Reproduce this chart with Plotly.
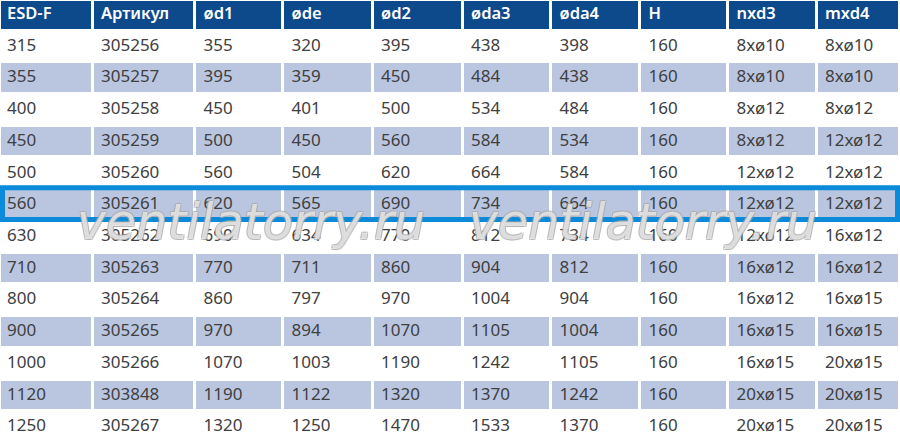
import plotly.graph_objects as go

headers = ["ESD-F", "Артикул", "ød1", "øde", "ød2", "øda3", "øda4", "H", "nxd3", "mxd4"]
esd_f = ["315", "355", "400", "450", "500", "560", "630", "710", "800", "900", "1000", "1120", "1250"]
artikul = ["305256", "305257", "305258", "305259", "305260", "305261", "305262", "305263", "305264", "305265", "305266", "303848", "305267"]
d1 = ["355", "395", "450", "500", "560", "620", "690", "770", "860", "970", "1070", "1190", "1320"]
de = ["320", "359", "401", "450", "504", "565", "634", "711", "797", "894", "1003", "1122", "1250"]
d2 = ["395", "450", "500", "560", "620", "690", "770", "860", "970", "1070", "1190", "1320", "1470"]
da3 = ["438", "484", "534", "584", "664", "734", "812", "904", "1004", "1105", "1242", "1370", "1533"]
da4 = ["398", "438", "484", "534", "584", "664", "734", "812", "904", "1004", "1105", "1242", "1370"]
h = ["160"] * 13
nxd3 = ["8xø10", "8xø10", "8xø12", "8xø12", "12xø12", "12xø12", "12xø12", "16xø12", "16xø12", "16xø15", "16xø15", "20xø15", "20xø15"]
mxd4 = ["8xø10", "8xø10", "8xø12", "12xø12", "12xø12", "12xø12", "16xø12", "16xø12", "16xø15", "16xø15", "20xø15", "20xø15", "20xø15"]
highlight_model = "560"
watermark = "ventilatorry.ru"

columns = [esd_f, artikul, d1, de, d2, da3, da4, h, nxd3, mxd4]
col_widths = [92.5, 102.5, 88, 89.5, 90, 88.5, 89, 88, 88.5, 83.5]

W, H = 900, 443
HEADER_H = 30.5
n = len(esd_f)
ROW_H = (H - HEADER_H) / n
GAP = 3

HEADER_BG = "#0d4a8c"
SHADE = "#bac6e0"

# cell edges
x_edges = [0.0]
for w in col_widths:
    x_edges.append(x_edges[-1] + w)
y_edges = [0.0, HEADER_H] + [HEADER_H + ROW_H * (i + 1) for i in range(n)]

# z: 2 = header, 1 = shaded, 0 = white
z = [[2] * len(headers)] + [[(i % 2)] * len(headers) for i in range(n)]

fig = go.Figure()
fig.add_trace(go.Heatmap(
    x=x_edges, y=y_edges, z=z, zmin=0, zmax=2,
    colorscale=[[0, "white"], [0.333, "white"], [0.333, SHADE], [0.667, SHADE],
                [0.667, HEADER_BG], [1, HEADER_BG]],
    xgap=GAP, ygap=GAP, showscale=False, hoverinfo="skip",
))

text_x = [x_edges[j] + (GAP / 2 if j > 0 else 0) + 7 for j in range(len(headers))]
row_centers = [(y_edges[i] + y_edges[i + 1]) / 2 for i in range(n + 1)]

# header text
fig.add_trace(go.Scatter(
    x=text_x, y=[row_centers[0]] * len(headers), text=headers,
    mode="text", textposition="middle right",
    textfont=dict(family="Noto Sans", size=16.5, color="white", weight=600),
    hoverinfo="skip", showlegend=False,
))
# body text
for j, col in enumerate(columns):
    fig.add_trace(go.Scatter(
        x=[text_x[j]] * n, y=row_centers[1:], text=col,
        mode="text", textposition="middle right",
        textfont=dict(family="Noto Sans", size=17, color="#404040"),
        hoverinfo="skip", showlegend=False,
    ))

hi = esd_f.index(highlight_model)
top = y_edges[hi + 1]
bot = y_edges[hi + 2]
fig.add_shape(type="rect", xref="x", yref="y",
              x0=2.5, x1=W - 2.5, y0=top - 1.5, y1=bot - 1.5,
              line=dict(color="#0a8ad8", width=5), fillcolor="rgba(0,0,0,0)", layer="above")

outline = "-1px -1px 0 #a8a8a8, 1px -1px 0 #a8a8a8, -1px 1px 0 #a8a8a8, 1px 1px 0 #a8a8a8"
for xc in [251, 643]:
    fig.add_annotation(text=watermark, xref="x", yref="y", x=xc, y=222,
                       showarrow=False, xanchor="center", yanchor="middle",
                       font=dict(family="DejaVu Sans", size=49, color="rgba(255,255,255,0.6)",
                                 style="italic", weight=200, shadow=outline))

fig.update_xaxes(range=[0, W], visible=False, fixedrange=True)
fig.update_yaxes(range=[H, 0], visible=False, fixedrange=True)
fig.update_layout(width=W, height=H, margin=dict(l=0, r=0, t=0, b=0),
                  paper_bgcolor="white", plot_bgcolor="white", showlegend=False)
fig.write_html("out.html", config=dict(displayModeBar=False),
               post_script="document.body.style.margin='0';document.body.style.overflow='hidden';")
